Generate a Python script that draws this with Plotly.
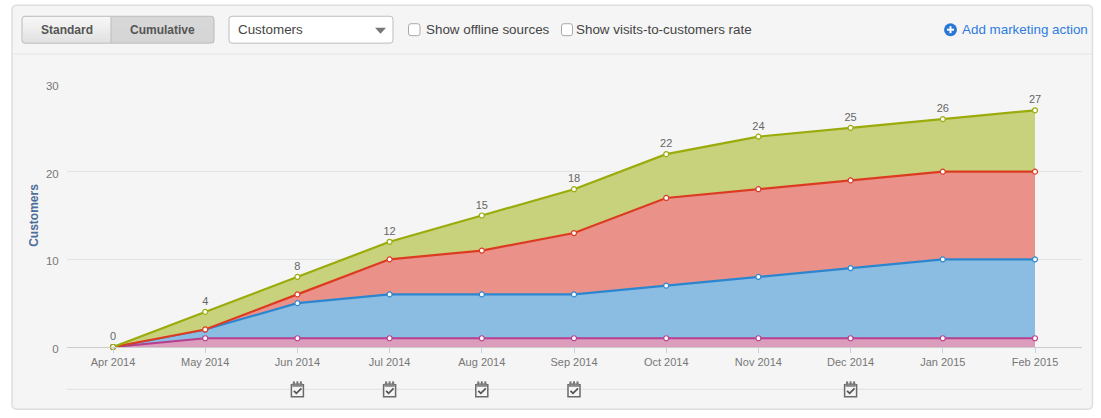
#!/usr/bin/env python3

"""plot.py: cumulative customers by source, stacked area."""

import plotly.graph_objects as go

months = ['Apr 2014', 'May 2014', 'Jun 2014', 'Jul 2014', 'Aug 2014', 'Sep 2014',
          'Oct 2014', 'Nov 2014', 'Dec 2014', 'Jan 2015', 'Feb 2015']

# each source's own share, the areas are stacked on top of each other
sources = [
    dict(values=[0, 1, 1, 1, 1, 1, 1, 1, 1, 1, 1], line='#b63f8e', fill='#dc9dbd'),
    dict(values=[0, 1, 4, 5, 5, 5, 6, 7, 8, 9, 9], line='#2b86cf', fill='#8bbce1'),
    dict(values=[0, 0, 1, 4, 5, 7, 10, 10, 10, 10, 10], line='#dc3b22', fill='#ea928a'),
    dict(values=[0, 2, 2, 2, 4, 5, 5, 6, 6, 6, 7], line='#9aab0b', fill='#c8d27c'),
]
totals = [0, 4, 8, 12, 15, 18, 22, 24, 25, 26, 27]

# months that have a marketing action under them
action_months = ['Jun 2014', 'Jul 2014', 'Aug 2014', 'Sep 2014', 'Dec 2014']

WIDTH, HEIGHT = 1101, 418
LEFT, RIGHT, TOP, BOTTOM = 67, 1082, 83.5, 347.5
FIRST_X, STEP_X = 113, 92.2


def px(x):
    return (x - LEFT) / (RIGHT - LEFT)


def py(y):
    return (BOTTOM - y) / (BOTTOM - TOP)


def rounded(x0, y0, x1, y1, r):
    x0, x1 = px(x0), px(x1)
    y0, y1 = py(y0), py(y1)
    rx = r / (RIGHT - LEFT)
    ry = r / (BOTTOM - TOP)
    return (f'M {x0 + rx} {y0} L {x1 - rx} {y0} Q {x1} {y0} {x1} {y0 - ry} '
            f'L {x1} {y1 + ry} Q {x1} {y1} {x1 - rx} {y1} L {x0 + rx} {y1} '
            f'Q {x0} {y1} {x0} {y1 + ry} L {x0} {y0 - ry} Q {x0} {y0} {x0 + rx} {y0} Z')


def rect(x0, y0, x1, y1, fill=None, line=None, width=1):
    return dict(type='rect', xref='paper', yref='paper', layer='below',
                x0=px(x0), x1=px(x1), y0=py(y0), y1=py(y1),
                fillcolor=fill or 'rgba(0,0,0,0)',
                line=dict(color=line or 'rgba(0,0,0,0)', width=width if line else 0))


def hline(x0, x1, y, color, width=1):
    return dict(type='line', xref='paper', yref='paper', layer='below',
                x0=px(x0), x1=px(x1), y0=py(y), y1=py(y),
                line=dict(color=color, width=width))


def path(d, fill=None, line=None, width=1):
    return dict(type='path', xref='paper', yref='paper', layer='below', path=d,
                fillcolor=fill or 'rgba(0,0,0,0)',
                line=dict(color=line or 'rgba(0,0,0,0)', width=width if line else 0))


def gradient(x0, x1, y0, y1, top, bottom):
    rows = []
    n = int(y1 - y0)
    for i in range(n):
        c = round(top + (bottom - top) * i / (n - 1))
        rows.append(rect(x0, y0 + i, x1, y0 + i + 1, fill=f'rgb({c},{c},{c})'))
    return rows


def label(x, y, text, color='#444444', size=13.4, bold=False, anchor='left'):
    return dict(xref='paper', yref='paper', x=px(x), y=py(y), text=f'<b>{text}</b>' if bold else text,
                showarrow=False, xanchor=anchor, yanchor='middle',
                font=dict(family='Liberation Sans', size=size, color=color))


fig = go.Figure()

for source in sources:
    fig.add_trace(go.Scatter(x=months,
                             y=source['values'],
                             stackgroup='one',
                             mode='lines+markers',
                             line=dict(color=source['line'], width=2.2),
                             fillcolor=source['fill'],
                             marker=dict(size=5, color='white',
                                         line=dict(color=source['line'], width=1.2)),
                             cliponaxis=False,
                             hoverinfo='skip',
                             showlegend=False))

# the totals above the top line, the hidden marker keeps them off the line
fig.add_trace(go.Scatter(x=months,
                         y=totals,
                         mode='markers+text',
                         marker=dict(size=5, opacity=0),
                         text=[str(t) for t in totals],
                         textposition='top center',
                         textfont=dict(family='Liberation Sans', size=11, color='#666666'),
                         cliponaxis=False,
                         hoverinfo='skip',
                         showlegend=False))

shapes = [
    path(rounded(12, 4.5, 1092.5, 410, 5), fill='#f5f5f5', line='#dedede', width=1.5),
    hline(12, 1092, 53.5, '#e4e4e4'),
    hline(LEFT, RIGHT, 390, '#e0e0e0'),
]

# Standard / Cumulative buttons
shapes += gradient(23, 111, 16, 42, 247, 221)
shapes += gradient(111, 214, 16, 42, 209, 205)
shapes += [
    path(rounded(22, 15.5, 214, 42.5, 3), line='#b9b9b9'),
    dict(type='line', xref='paper', yref='paper', layer='below', x0=px(111), x1=px(111),
         y0=py(16), y1=py(42), line=dict(color='#bdbdbd', width=1)),
]

# dropdown
shapes += [
    path(rounded(229, 15.5, 393, 42.5, 3), fill='white', line='#bdbdbd'),
    path(f'M {px(375)} {py(27)} L {px(386)} {py(27)} L {px(380.5)} {py(33)} Z', fill='#777777'),
]

# check boxes
shapes += [
    path(rounded(408.5, 23, 420, 35, 2.5), fill='white', line='#a9a9a9'),
    path(rounded(561.5, 23, 572.5, 35, 2.5), fill='white', line='#a9a9a9'),
]

# add marketing action icon
shapes += [
    dict(type='circle', xref='paper', yref='paper', layer='below',
         x0=px(944), x1=px(957), y0=py(22.5), y1=py(35.5),
         fillcolor='#2a78d6', line=dict(width=0)),
    hline(947, 954, 29, 'white', 2),
    dict(type='line', xref='paper', yref='paper', layer='below',
         x0=px(950.5), x1=px(950.5), y0=py(25.5), y1=py(32.5),
         line=dict(color='white', width=2)),
]

# marketing action notepads below the axis
for month in action_months:
    cx = FIRST_X + STEP_X * months.index(month)
    shapes += [
        rect(cx - 6, 385.5, cx + 6, 397.5, fill='#f5f5f5', line='#6a6a6a', width=1.5),
        rect(cx - 5, 384, cx + 5, 387.5, fill='#8a8a8a'),
        path(f'M {px(cx - 3.5)} {py(391.5)} L {px(cx - 1)} {py(394)} L {px(cx + 4)} {py(389)}',
             line='#555555', width=1.8),
    ]
    for ring in (-3.5, 0, 3.5):
        shapes.append(rect(cx + ring - 1, 382, cx + ring + 1, 385.5, fill='#777777'))

fig.update_layout(
    width=WIDTH,
    height=HEIGHT,
    margin=dict(l=LEFT, r=WIDTH - RIGHT, t=TOP, b=HEIGHT - BOTTOM, pad=0),
    paper_bgcolor='white',
    plot_bgcolor='rgba(0,0,0,0)',
    shapes=shapes,
    annotations=[
        label(66.5, 29, 'Standard', color='#555555', size=12, bold=True, anchor='center'),
        label(162.5, 29, 'Cumulative', color='#555555', size=12, bold=True, anchor='center'),
        label(236, 29, 'Customers'),
        label(424, 29, 'Show offline sources'),
        label(574, 29, 'Show visits-to-customers rate'),
        label(960, 29, 'Add marketing action', color='#2f7ce0'),
    ],
    xaxis=dict(type='category',
               range=[(LEFT - FIRST_X) / STEP_X, (RIGHT - FIRST_X) / STEP_X],
               tickfont=dict(family='Liberation Sans', size=11, color='#777777'),
               ticks='outside', ticklen=5, tickcolor='#c0d4e8', tickwidth=1,
               ticklabelstandoff=0,
               showgrid=False, showline=True, linecolor='#cccccc', linewidth=1,
               zeroline=False),
    yaxis=dict(range=[0, 30],
               tickvals=[0, 10, 20, 30],
               tickfont=dict(family='Liberation Sans', size=11.5, color='#777777'),
               ticks='outside', ticklen=5, tickcolor='rgba(0,0,0,0)',
               ticklabelstandoff=0, ticklabelshift=2,
               gridcolor='#e3e3e3', gridwidth=1, zeroline=False,
               title=dict(text='<b>Customers</b>', standoff=4,
                          font=dict(family='Liberation Sans', size=12, color='#4d6d99'))),
)

fig.write_html("out.html", config=dict(displayModeBar=False),
               post_script="document.body.style.margin='0';")
